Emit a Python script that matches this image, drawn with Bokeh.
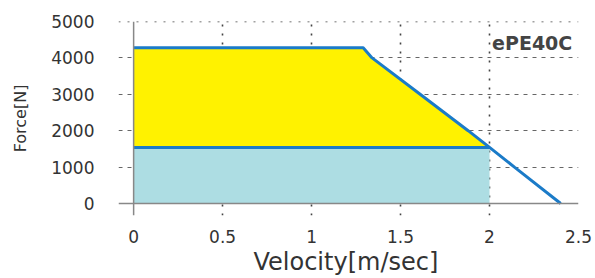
from bokeh.plotting import figure
from bokeh.models import Span, Label, FixedTicker, Title
from bokeh.embed import file_html
from bokeh.resources import INLINE

# Data
velocity = [0.0, 1.29, 1.34, 1.61, 1.88, 2.00, 2.14, 2.40]
force = [4280, 4280, 4000, 3000, 2000, 1540, 1000, 0]
cont_velocity = [0.0, 2.00]
cont_force = 1540
x_ticks = [0, 0.5, 1, 1.5, 2, 2.5]
y_ticks = [0, 1000, 2000, 3000, 4000, 5000]
model = "ePE40C"
x_title = "Velocity[m/sec]"
y_title = "Force[N]"

p = figure(width=592, height=276, x_range=(-0.085, 2.5), y_range=(-330, 5000),
           output_backend="svg", toolbar_location=None,
           min_border_left=118, min_border_right=14, min_border_top=21, min_border_bottom=61)
p.outline_line_color = None
p.background_fill_color = "white"

# Yellow peak region
nx = [v for v in velocity if v <= cont_velocity[1]]
nf = force[:len(nx)]
p.varea(x=nx, y1=[cont_force] * len(nx), y2=nf, fill_color="#FFF200")
# Cyan continuous region
p.varea(x=cont_velocity, y1=[0, 0], y2=[cont_force, cont_force], fill_color="#ADDDE3")

# grid
p.xgrid.ticker = FixedTicker(ticks=[t for t in x_ticks if t != 0])
p.xgrid.grid_line_color = "#444444"
p.xgrid.grid_line_dash = "2 7"
p.xgrid.grid_line_width = 1.6
p.ygrid.ticker = FixedTicker(ticks=[t for t in y_ticks if t not in (0, 5000)])
p.ygrid.grid_line_color = "#666666"
p.ygrid.grid_line_dash = "4 5"
p.ygrid.grid_line_width = 1.2
p.add_layout(Span(location=5000, dimension="width", line_color="#444444",
                  line_dash="2 7", line_width=1.6))
p.add_layout(Span(location=0, dimension="width", line_color="#888888", line_width=1.5))
p.add_layout(Span(location=0, dimension="height", line_color="#888888", line_width=1.5))

# lines
p.line(cont_velocity, [cont_force, cont_force], line_color="#1B7BC8", line_width=3)
p.line(velocity, force, line_color="#1B7BC8", line_width=3)

# axes
for ax in (p.xaxis[0], p.yaxis[0]):
    ax.axis_line_color = None
    ax.major_tick_line_color = None
    ax.minor_tick_line_color = None
    ax.major_label_text_font = "DejaVu Sans"
    ax.major_label_text_font_size = "17px"
    ax.major_label_text_color = "#333333"
    ax.axis_label_text_font = "DejaVu Sans"
    ax.axis_label_text_font_style = "normal"
    ax.axis_label_text_color = "#333333"
p.xaxis.ticker = FixedTicker(ticks=x_ticks)
p.yaxis.ticker = FixedTicker(ticks=y_ticks)
p.xaxis.major_label_overrides = {0: "0", 0.5: "0.5", 1: "1", 1.5: "1.5", 2: "2", 2.5: "2.5"}
p.yaxis.major_label_standoff = 18
p.xaxis.major_label_standoff = 8
p.yaxis.axis_label = y_title
p.yaxis.axis_label_text_font_size = "16px"
p.yaxis.axis_label_standoff = 18

# x title placed below the axis, shifted right as in the original
p.add_layout(Title(text=x_title, align="left", offset=135, standoff=1,
                   text_font="DejaVu Sans", text_font_size="24px",
                   text_font_style="normal", text_color="#333333"), "below")

p.add_layout(Label(x=2.465, y=4420, text=model, text_align="right", text_baseline="middle",
                   text_font="DejaVu Sans", text_font_size="19px", text_font_style="bold",
                   text_color="#444444"))

open("out.html", "w").write(file_html(p, INLINE))
